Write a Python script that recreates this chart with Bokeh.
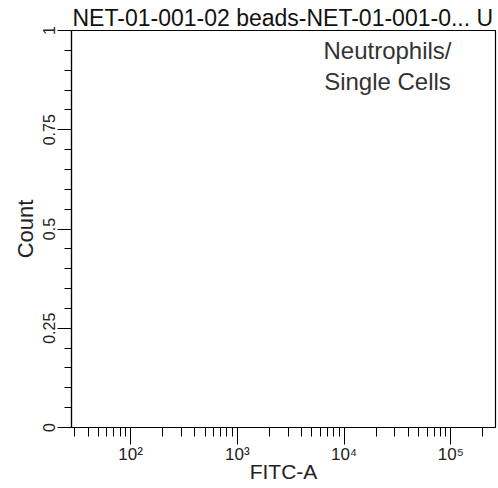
from bokeh.plotting import figure
from bokeh.models import FixedTicker, Range1d, Label, ColumnDataSource
from bokeh.embed import file_html
from bokeh.resources import INLINE

# ---- data ----
title_text = "NET-01-001-02 beads-NET-01-001-0... U"
gate_lines = ["Neutrophils/", "Single Cells"]
x_label = "FITC-A"
y_label = "Count"
x_range_lim = [28, 262144]
y_range_lim = [0, 1]
x_major_ticks = [100, 1000, 10000, 100000]
x_tick_labels = ["10\u00b2", "10\u00b3", "10\u2074", "10\u2075"]
x_minor_ticks = [30, 40, 50, 60, 70, 80, 90,
                 200, 300, 400, 500, 600, 700, 800, 900,
                 2000, 3000, 4000, 5000, 6000, 7000, 8000, 9000,
                 20000, 30000, 40000, 50000, 60000, 70000, 80000, 90000,
                 200000]
y_major_ticks = [0, 0.25, 0.5, 0.75, 1]
y_tick_labels = ["0", "0.25", "0.5", "0.75", "1"]
y_minor_ticks = [0.05, 0.1, 0.15, 0.2, 0.3, 0.35, 0.4, 0.45,
                 0.55, 0.6, 0.65, 0.7, 0.8, 0.85, 0.9, 0.95]
# histogram (no events in this gate)
hist_x = []
hist_count = []

FONT = "Liberation Sans"

p = figure(width=498, height=488, x_axis_type="log",
           x_range=Range1d(*x_range_lim), y_range=Range1d(*y_range_lim),
           output_backend="svg", toolbar_location=None,
           min_border_left=71, min_border_right=3,
           min_border_top=30, min_border_bottom=61)
p.background_fill_color = "white"
p.border_fill_color = "white"
p.grid.visible = False
p.outline_line_color = "black"
p.outline_line_width = 1.2

# title (runs off the right edge like the original)
p.title.text = title_text
p.title.align = "left"
p.title.offset = 1
p.title.standoff = 0
p.title.text_font = FONT
p.title.text_font_size = "23px"
p.title.text_font_style = "normal"
p.title.text_color = "#111111"

p.line(x="x", y="y", source=ColumnDataSource(dict(x=hist_x, y=hist_count)),
       line_color="black")

# x axis
xa = p.xaxis[0]
xa.ticker = FixedTicker(ticks=x_major_ticks, minor_ticks=x_minor_ticks)
xa.major_label_overrides = {t: l for t, l in zip(x_major_ticks, x_tick_labels)}
xa.major_label_text_font = FONT
xa.major_label_text_font_size = "17px"
xa.major_label_text_color = "#222222"
xa.major_label_standoff = 0
xa.major_tick_out = 17
xa.major_tick_in = 0
xa.minor_tick_out = 9
xa.minor_tick_in = 0
xa.major_tick_line_color = "black"
xa.minor_tick_line_color = "black"
xa.axis_line_color = "black"
xa.axis_line_width = 1.2
xa.axis_label = x_label
xa.axis_label_text_font = FONT
xa.axis_label_text_font_size = "21px"
xa.axis_label_text_font_style = "normal"
xa.axis_label_text_color = "#222222"
xa.axis_label_standoff = -7

# y axis
ya = p.yaxis[0]
ya.ticker = FixedTicker(ticks=y_major_ticks, minor_ticks=y_minor_ticks)
ya.major_label_overrides = {t: l for t, l in zip(y_major_ticks, y_tick_labels)}
ya.major_label_orientation = "vertical"
ya.major_label_text_font = FONT
ya.major_label_text_font_size = "16px"
ya.major_label_text_color = "#222222"
ya.major_label_standoff = 3
ya.major_tick_out = 14
ya.major_tick_in = 0
ya.minor_tick_out = 7
ya.minor_tick_in = 0
ya.major_tick_line_color = "black"
ya.minor_tick_line_color = "black"
ya.axis_line_color = "black"
ya.axis_line_width = 1.2
ya.axis_label = y_label
ya.axis_label_text_font = FONT
ya.axis_label_text_font_size = "22px"
ya.axis_label_text_font_style = "normal"
ya.axis_label_text_color = "#222222"
ya.axis_label_standoff = 2

# gate name
for i, line in enumerate(gate_lines):
    p.add_layout(Label(x=316, y=377 - 31 * i, x_units="screen", y_units="screen",
                       text=line, text_align="center", text_baseline="alphabetic",
                       text_font=FONT, text_font_size="24px",
                       text_color="#333333"))

open("out.html", "w").write(file_html(p, INLINE))
